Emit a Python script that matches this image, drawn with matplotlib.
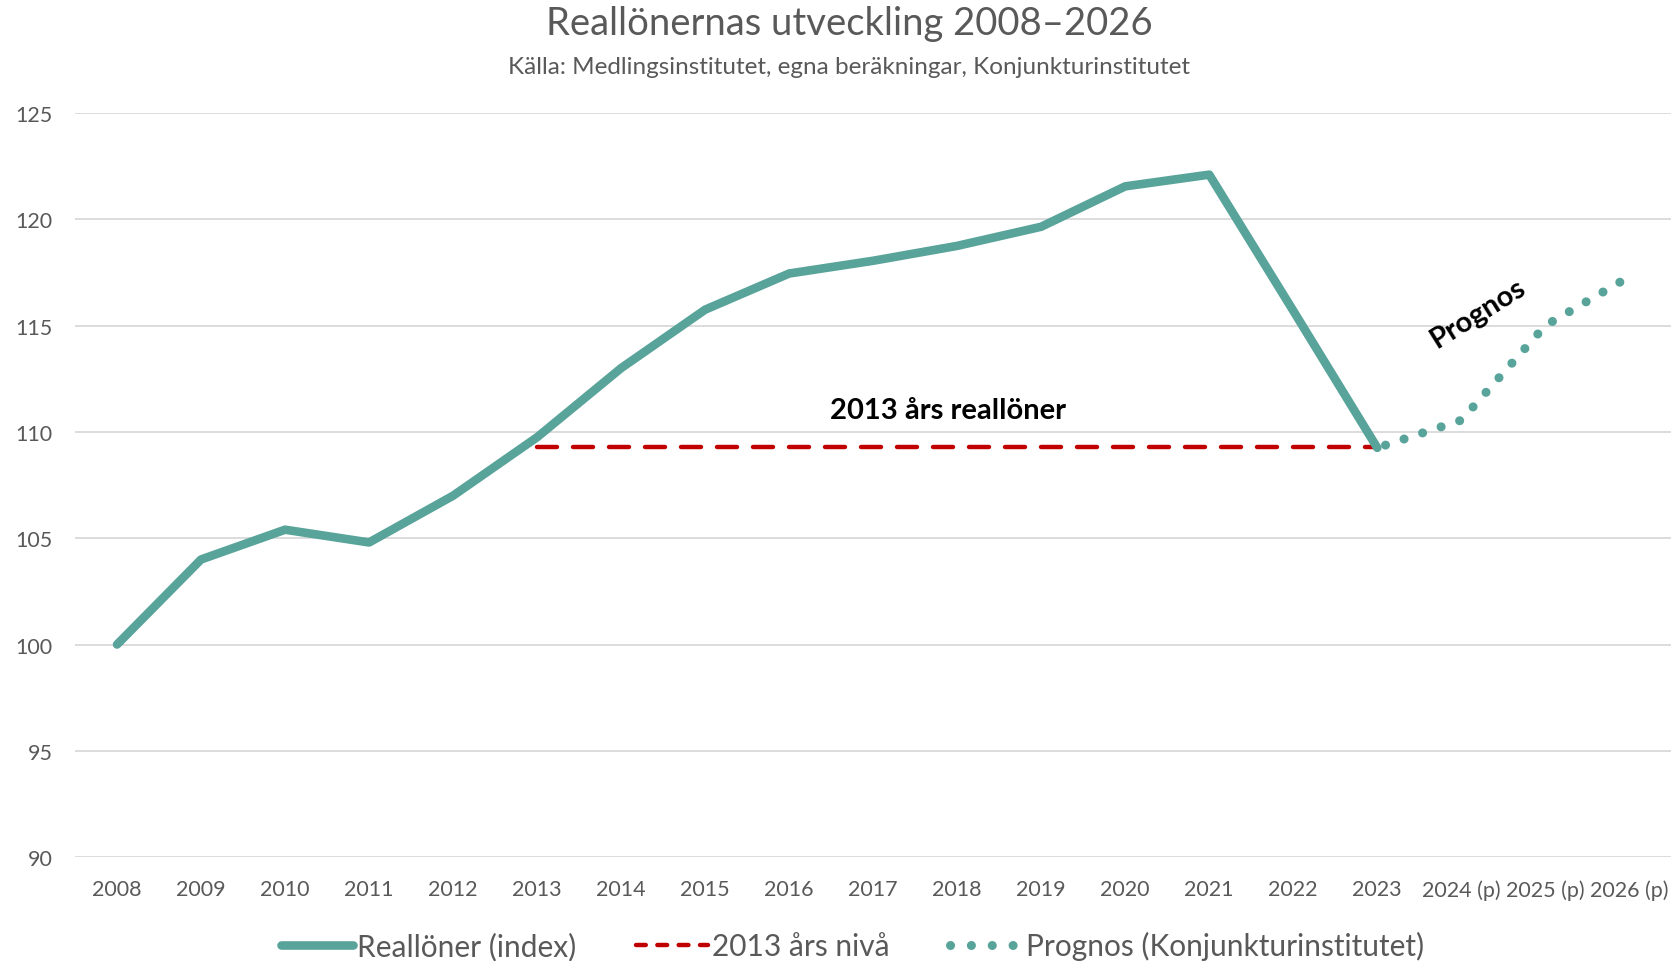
import matplotlib
matplotlib.use("Agg")
import matplotlib.pyplot as plt
from matplotlib.lines import Line2D

plt.rcParams['font.family'] = ['Lato', 'DejaVu Sans']

categories = ["2008", "2009", "2010", "2011", "2012", "2013", "2014", "2015", "2016",
              "2017", "2018", "2019", "2020", "2021", "2022", "2023",
              "2024 (p)", "2025 (p)", "2026 (p)"]
reallon = [100.0, 104.0, 105.4, 104.8, 107.0, 109.75, 113.0, 115.75, 117.45,
           118.05, 118.75, 119.65, 121.55, 122.1, 115.7, 109.25]
niva_2013 = 109.3
niva_start, niva_end = "2013", "2023"
prognos_cats = ["2023", "2024 (p)", "2025 (p)", "2026 (p)"]
prognos = [109.25, 110.55, 115.0, 117.3]
yticks = [90, 95, 100, 105, 110, 115, 120, 125]

teal = "#58A39A"
red = "#C00000"
grey_text = "#595959"

fig = plt.figure(figsize=(16.75, 9.62), dpi=100)
ax = fig.add_axes([0.0448, 0.108, 0.953, 0.7735])

xi = {c: i for i, c in enumerate(categories)}

ax.plot([xi[c] for c in categories[:len(reallon)]], reallon, color=teal, lw=6.2,
        solid_capstyle="round", solid_joinstyle="round", zorder=3, label="Reallöner (index)")
ax.plot([xi[niva_start], xi[niva_end]], [niva_2013, niva_2013], color=red, lw=3.2,
        linestyle=(0, (4.5, 3.6)), dash_capstyle="round", zorder=2, label="2013 års nivå")
ax.plot([xi[c] for c in prognos_cats], prognos, color=teal, lw=6.5,
        linestyle=(1.2, (0.01, 2.15)), dash_capstyle="round", zorder=2,
        label="Prognos (Konjunkturinstitutet)")

ax.set_xlim(-0.5, len(categories) - 0.5)
ax.set_ylim(90, 125)
ax.set_yticks(yticks)
ax.set_xticks(range(len(categories)))
ax.set_xticklabels(categories)
ax.yaxis.grid(True, color="#D9D9D9", lw=1.3)
ax.set_axisbelow(True)
for s in ax.spines.values():
    s.set_visible(False)
ax.tick_params(axis="both", length=0, labelsize=15.5, labelcolor=grey_text)
ax.tick_params(axis="x", pad=16)
ax.tick_params(axis="y", pad=16)

ax.text(9.89, 111.05, "2013 års reallöner", ha="center", va="center",
        fontsize=21, fontweight="bold", color="black")
ax.text(16.2, 115.6, "Prognos", ha="center", va="center", rotation=32,
        fontsize=21, fontweight="bold", color="black")

fig.text(0.507, 0.975, "Reallönernas utveckling 2008–2026", ha="center", va="center",
         fontsize=27.5, color=grey_text)
fig.text(0.507, 0.93, "Källa: Medlingsinstitutet, egna beräkningar, Konjunkturinstitutet",
         ha="center", va="center", fontsize=17.5, color=grey_text)

handles = [
    Line2D([], [], color=teal, lw=6.2, solid_capstyle="round"),
    Line2D([], [], color=red, lw=3.2, linestyle=(0, (2.2, 2.6)), dash_capstyle="round"),
    Line2D([], [], color=teal, lw=6.5, linestyle=(0, (0.01, 2.3)), dash_capstyle="round"),
]
labels = ["Reallöner (index)", "2013 års nivå", "Prognos (Konjunkturinstitutet)"]
fig.legend(handles, labels, loc="center", bbox_to_anchor=(0.509, 0.016), ncol=3,
           frameon=False, fontsize=21.5, handlelength=2.4, handletextpad=0.15,
           columnspacing=2.0, labelcolor=grey_text)

fig.savefig("out.png", dpi=100, facecolor="white")
